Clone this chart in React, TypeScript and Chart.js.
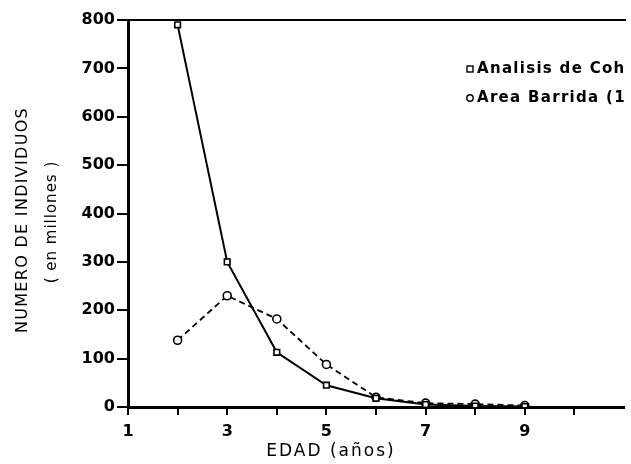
import React, { useEffect, useRef } from "react";
import { Chart, registerables } from "chart.js";

Chart.register(...registerables);

const ages = [2, 3, 4, 5, 6, 7, 8, 9];
const cohortes = [790, 300, 113, 45, 18, 5, 2, 1];
const areaBarrida = [138, 230, 182, 88, 20, 8, 6, 3];
const xLabeled = [1, 3, 5, 7, 9];
const legendLabels = ["Analisis de Coh", "Area Barrida (1"];
const yTitleLines = ["NUMERO DE INDIVIDUOS", "( en millones )"];
const xTitle = "EDAD (años)";

const decor = {
  id: "decor",
  afterDraw(chart: any) {
    const { ctx, chartArea } = chart;
    ctx.save();
    // top border
    ctx.strokeStyle = "#000";
    ctx.lineWidth = 2;
    ctx.beginPath();
    ctx.moveTo(chartArea.left, chartArea.top);
    ctx.lineTo(chartArea.right + 2, chartArea.top);
    ctx.stroke();
    // legend
    ctx.fillStyle = "#000";
    ctx.font = "bold 15px 'DejaVu Sans'";
    ctx.textBaseline = "middle";
    ctx.textAlign = "left";
    (ctx as any).letterSpacing = "1.3px";
    ctx.lineWidth = 1.4;
    ctx.strokeRect(467, 66, 6, 6);
    ctx.fillText(legendLabels[0], 477, 69);
    ctx.beginPath();
    ctx.arc(470, 98, 3.2, 0, Math.PI * 2);
    ctx.stroke();
    ctx.fillText(legendLabels[1], 477, 98);
    // x title
    ctx.font = "17px 'DejaVu Sans'";
    (ctx as any).letterSpacing = "2px";
    ctx.textAlign = "center";
    ctx.fillText(xTitle, 331, 452);
    // y title
    ctx.save();
    ctx.translate(23, 220);
    ctx.rotate(-Math.PI / 2);
    ctx.font = "16px 'DejaVu Sans'";
    (ctx as any).letterSpacing = "1.3px";
    ctx.fillText(yTitleLines[0], 0, 0);
    ctx.restore();
    ctx.save();
    ctx.translate(52, 222);
    ctx.rotate(-Math.PI / 2);
    ctx.font = "15px 'DejaVu Sans'";
    (ctx as any).letterSpacing = "1px";
    ctx.fillText(yTitleLines[1], 0, 0);
    ctx.restore();
    ctx.restore();
  },
};

export default function App() {
  const ref = useRef<HTMLCanvasElement>(null);
  useEffect(() => {
    const chart = new Chart(ref.current!, {
      type: "line",
      data: {
        datasets: [
          {
            label: "Analisis de Cohortes",
            data: ages.map((a, i) => ({ x: a, y: cohortes[i] })),
            borderColor: "#000",
            borderWidth: 2,
            pointStyle: "rect",
            pointRadius: 4,
            pointBackgroundColor: "#fff",
            pointBorderColor: "#000",
            pointBorderWidth: 1.6,
            tension: 0,
          },
          {
            label: "Area Barrida",
            data: ages.map((a, i) => ({ x: a, y: areaBarrida[i] })),
            borderColor: "#000",
            borderWidth: 1.8,
            borderDash: [6, 4],
            pointStyle: "circle",
            pointRadius: 4,
            pointBackgroundColor: "#fff",
            pointBorderColor: "#000",
            pointBorderWidth: 1.6,
            tension: 0,
          },
        ],
      },
      options: {
        animation: false,
        responsive: false,
        layout: { padding: { top: 20, right: 1, left: 0, bottom: 0 } },
        plugins: { legend: { display: false }, tooltip: { enabled: false } },
        scales: {
          x: {
            type: "linear",
            min: 1,
            max: 11,
            afterFit: (s: any) => {
              s.height = 57;
            },
            border: { display: true, color: "#000", width: 3 },
            grid: {
              drawOnChartArea: false,
              drawTicks: true,
              tickLength: 8,
              color: (c: any) => (c.tick && c.tick.value >= 11 ? "rgba(0,0,0,0)" : "#000"),
              lineWidth: 2,
            },
            ticks: {
              stepSize: 1,
              color: "#000",
              font: { family: "'DejaVu Sans'", size: 16, weight: "bold" },
              padding: 7,
              maxRotation: 0,
              autoSkip: false,
              callback: (v: any) => (xLabeled.includes(Number(v)) ? String(v) : ""),
            },
          },
          y: {
            min: 0,
            max: 800,
            afterFit: (s: any) => {
              s.width = 128;
            },
            border: { display: true, color: "#000", width: 3 },
            grid: { drawOnChartArea: false, drawTicks: true, tickLength: 11, color: "#000", lineWidth: 2 },
            ticks: {
              stepSize: 100,
              color: "#000",
              font: { family: "'DejaVu Sans'", size: 16, weight: "bold" },
              padding: 2,
            },
          },
        },
      },
      plugins: [decor],
    } as any);
    return () => chart.destroy();
  }, []);
  return (
    <div style={{ position: "absolute", left: 0, top: 0, width: 631, height: 464, background: "#fff" }}>
      <canvas ref={ref} width={631} height={464} />
    </div>
  );
}
